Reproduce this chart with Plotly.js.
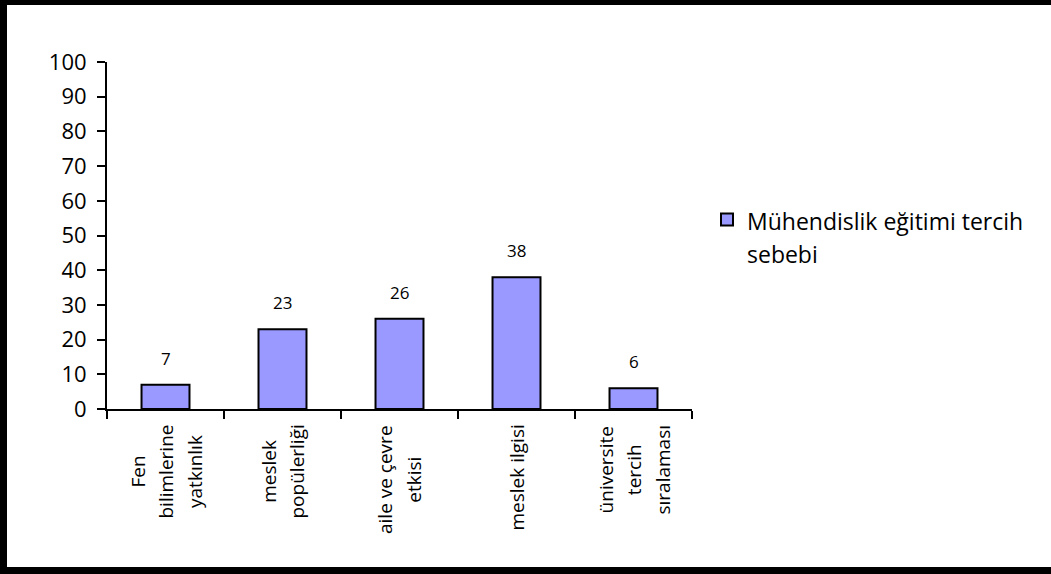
<!DOCTYPE html>
<html>
<head>
<meta charset="utf-8">
<script src="https://cdn.plot.ly/plotly-3.0.1.min.js"></script>
<style>
html,body{margin:0;padding:0;background:#fff;}
#chart{width:1051px;height:574px;}
</style>
</head>
<body>
<div id="chart"></div>
<script>
// ---- data ----
var categories = ['Fen bilimlerine yatkınlık', 'meslek popülerliği', 'aile ve çevre etkisi', 'meslek ilgisi', 'üniversite tercih sıralaması'];
var categoryLabelLines = [
  ['Fen', 'bilimlerine', 'yatkınlık'],
  ['meslek', 'popülerliği'],
  ['aile ve çevre', 'etkisi'],
  ['meslek ilgisi'],
  ['üniversite', 'tercih', 'sıralaması']
];
var values = [7, 23, 26, 38, 6];
var seriesNameLines = ['Mühendislik eğitimi tercih', 'sebebi'];
var yTickValues = [0, 10, 20, 30, 40, 50, 60, 70, 80, 90, 100];

// ---- layout geometry ----
var W = 1051, H = 574;
var M = {l: 107, r: 359, t: 62, b: 165};
var pw = W - M.l - M.r, ph = H - M.t - M.b;
function px(p) { return (p - M.l) / pw; }
function py(p) { return (H - M.b - p) / ph; }

var font = 'Open Sans, Noto Sans, sans-serif';

function spanLines(lines, size) {
  return lines.map(function (s) {
    return '<span style="font-size:' + size + 'px">' + s + '</span>';
  }).join('<br>');
}

var annotations = [];
categories.forEach(function (c, i) {
  annotations.push({
    x: c, y: values[i], xref: 'x', yref: 'y',
    text: String(values[i]), showarrow: false,
    yanchor: 'bottom', yshift: 13,
    font: {family: font, size: 17, color: '#000'}
  });
  annotations.push({
    x: c, y: 0, xref: 'x', yref: 'y',
    text: spanLines(categoryLabelLines[i], 19), showarrow: false, textangle: -90, align: 'center',
    yanchor: 'top', xanchor: 'center', yshift: -14,
    font: {family: font, size: 22, color: '#000'}
  });
});

function rect(x0, y0, x1, y1) {
  return {type: 'rect', xref: 'paper', yref: 'paper', layer: 'above',
    x0: px(x0), x1: px(x1), y0: py(y0), y1: py(y1),
    fillcolor: '#000', line: {width: 0}};
}
var shapes = [
  rect(0, 0, W, 5),
  rect(0, 0, 7, H),
  rect(0, H - 7, W, H)
];

var trace = {
  type: 'bar',
  x: categories,
  y: values,
  name: spanLines(seriesNameLines, 23),
  width: 0.41,
  marker: {color: '#9999FF', line: {color: '#000', width: 2}},
  hoverinfo: 'none'
};

var layout = {
  width: W, height: H,
  margin: M,
  paper_bgcolor: '#fff', plot_bgcolor: '#fff',
  showlegend: true,
  legend: {
    x: px(707), y: py(196), xanchor: 'left', yanchor: 'top',
    valign: 'top',
    font: {family: font, size: 26, color: '#000'},
    bgcolor: 'rgba(0,0,0,0)'
  },
  xaxis: {
    type: 'category',
    showline: true, linecolor: '#000', linewidth: 2,
    ticks: 'outside', tickson: 'boundaries', ticklen: 8, tickwidth: 2, tickcolor: '#000',
    showticklabels: false, showgrid: false, zeroline: false,
    range: [-0.5, categories.length - 0.5], fixedrange: true
  },
  yaxis: {
    range: [0, 100], tickvals: yTickValues,
    showline: true, linecolor: '#000', linewidth: 2,
    ticks: 'outside', ticklen: 8, tickwidth: 2, tickcolor: '#000',
    ticklabelstandoff: 6,
    tickfont: {family: font, size: 22, color: '#000'},
    showgrid: false, zeroline: false, fixedrange: true
  },
  annotations: annotations,
  shapes: shapes
};

Plotly.newPlot('chart', [trace], layout, {staticPlot: true, displayModeBar: false});
</script>
</body>
</html>
